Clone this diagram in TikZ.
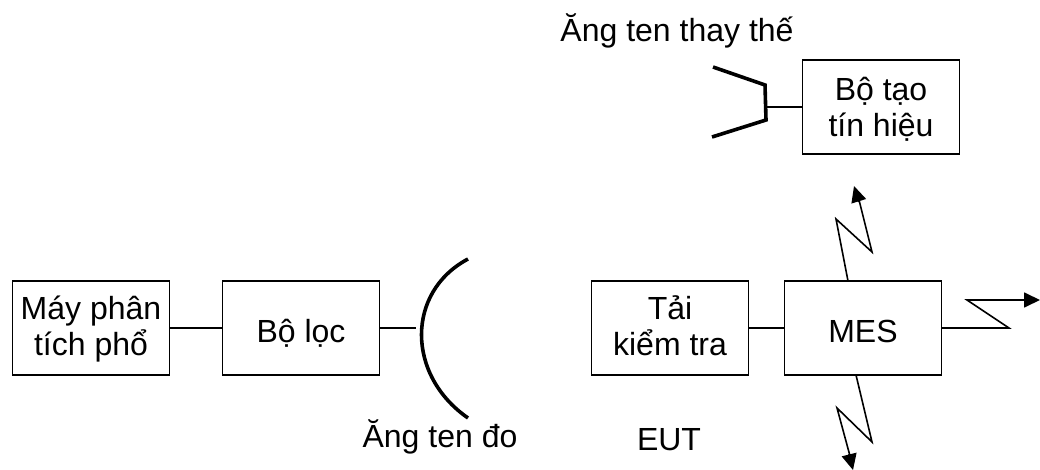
\documentclass[tikz,border=0pt]{standalone}
\usepackage{fontspec}
\setmainfont{Liberation Sans}
\usetikzlibrary{arrows.meta}
\tikzset{
	block/.style={draw, line width=1.7pt, minimum width=157pt, minimum height=94pt, inner sep=0pt, align=center, font=\fontsize{32}{36}\selectfont},
	oneline/.style={block, text height=30pt, text depth=2pt},
	twoline/.style={block, text height=56pt, text depth=2pt},
	label/.style={inner sep=0pt, font=\fontsize{32}{36}\selectfont},
	wire/.style={line width=1.6pt},
	wave/.style={line width=1.6pt, line join=miter},
	waveend/.style={-{Triangle[length=16pt,width=15pt]}, line width=1.7pt},
	dish/.style={line width=3.6pt},
}
\begin{document}
\begin{tikzpicture}[x=1pt,y=-1pt]
		\useasboundingbox (0,0) rectangle (1040,470);
		\node[twoline] (analyzer) at (91,328) {Máy phân\\tích phổ};
		\node[oneline] (filter) at (301,328) {Bộ lọc};
		\node[twoline] (load) at (670,328) {Tải\\kiểm tra};
		\node[oneline] (mes) at (863,328) {MES};
		\node[twoline, text height=62pt] (generator) at (881,107) {Bộ tạo\\tín hiệu};
		\node[label] (subst) at (677,31) {Ăng ten thay thế};
		\node[label] (meas) at (440,437) {Ăng ten đo};
		\node[label] (eut) at (669,440) {EUT};
		\coordinate (dishfeed) at (416,328);
		\coordinate (hornfeed) at (766,107);
		\draw[wire] (analyzer) -- (filter);
		\draw[wire] (filter) -- (dishfeed);
		\draw[wire] (load) -- (mes);
		\draw[wire] (generator.west) -- (hornfeed);
		% antennas
		\draw[dish] (468,259) .. controls (406,292) and (406,375) .. (468,418);
		\draw[dish] (713,67) -- (765,85) -- (766,120) -- (712,137);
		% radiated paths
		\coordinate (mesup) at (848,281);
		\coordinate (mesright) at (942,328);
		\coordinate (mesdown) at (856,375);
		\draw[wave] (mesup) -- (836,219) -- (872,252) -- (859,200);
		\draw[waveend] (859,202) -- (854,186);
		\draw[wave] (mesright) -- (1009,328) -- (967,300) -- (1028,300);
		\draw[waveend] (1026,300) -- (1040,300);
		\draw[wave] (mesdown) -- (872,442) -- (837,408) -- (850,456);
		\draw[waveend] (849,454) -- (853,470);
\end{tikzpicture}
\end{document}
